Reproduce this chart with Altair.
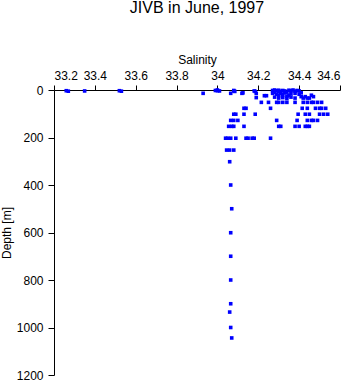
import altair as alt
import pandas as pd

salinity = [
    33.26, 33.27, 33.35, 33.52, 33.53,
    33.93,
    33.99, 34.00, 34.01, 34.00,
    34.065, 34.08, 34.085, 34.08,
    34.12, 34.125,
    34.18, 34.185, 34.19, 34.19,
    34.24, 34.23,
    34.27, 34.28, 34.29, 34.30, 34.31, 34.32, 34.33, 34.35, 34.36, 34.37, 34.38, 34.39, 34.40, 34.30, 34.34, 34.28,
    34.27, 34.29, 34.31, 34.32, 34.33, 34.35, 34.36, 34.38, 34.40, 34.41, 34.30, 34.34,
    34.28, 34.30, 34.32, 34.34, 34.36, 34.38, 34.42, 34.44, 34.45, 34.46, 34.41, 34.43, 34.47,
    34.215, 34.25, 34.29, 34.30, 34.32, 34.34, 34.38, 34.42, 34.44, 34.46, 34.47, 34.49, 34.51,
    34.13, 34.14, 34.26, 34.415, 34.44, 34.48, 34.50, 34.51, 34.53,
    34.08, 34.09, 34.13, 34.185, 34.395, 34.43, 34.45, 34.50, 34.52, 34.54,
    34.065, 34.08, 34.10, 34.29, 34.39, 34.44, 34.46, 34.47, 34.49,
    34.055, 34.07, 34.08, 34.13, 34.30, 34.31, 34.38, 34.40, 34.43, 34.44, 34.45,
    34.04, 34.05, 34.065, 34.09, 34.14, 34.15, 34.17, 34.18, 34.26,
    34.045, 34.06, 34.08,
    34.06, 34.065, 34.07, 34.065, 34.065, 34.065, 34.065, 34.06, 34.065, 34.07,
]
depth = [
    3, 5, 4, 3, 5,
    14,
    2, 3, 4, 0,
    14, 4, 6, 2,
    14, 12,
    4, 6, 14, 32,
    24, 24,
    2, 0, 3, 1, 5, 2, 4, 1, 3, 0, 5, 2, 4, 8, 9, 10,
    14, 18, 15, 20, 12, 22, 16, 14, 18, 12, 24, 26,
    30, 34, 32, 36, 30, 34, 34, 34, 34, 22, 28, 28, 28,
    52, 52, 52, 52, 52, 52, 52, 52, 52, 52, 52, 52, 52,
    77, 77, 77, 77, 77, 77, 77, 77, 77,
    102, 102, 102, 102, 102, 102, 102, 102, 102, 102,
    128, 128, 128, 128, 128, 128, 128, 128, 128,
    153, 153, 153, 153, 153, 153, 153, 153, 153, 153, 153,
    203, 203, 203, 203, 203, 203, 203, 203, 203,
    253, 253, 253,
    302, 400, 500, 601, 700, 800, 900, 935, 1000, 1044,
]

x_ticks = [33.2, 33.4, 33.6, 33.8, 34.0, 34.2, 34.4, 34.6]
y_ticks = [0, 200, 400, 600, 800, 1000, 1200]

df = pd.DataFrame({"Salinity": salinity, "Depth": depth})

FONT = "Liberation Sans"

chart = alt.Chart(df).mark_square(size=13, color="#0000ff", opacity=1).encode(
    x=alt.X(
        "Salinity:Q",
        scale=alt.Scale(domain=[33.2, 34.6], nice=False, zero=False),
        axis=alt.Axis(
            orient="top", values=x_ticks, format="~f", title="Salinity",
            grid=False, domainColor="black", tickColor="black",
            tickSize=5, labelPadding=3, titlePadding=3,
            labelFont=FONT, titleFont=FONT, labelFontSize=12, titleFontSize=12,
            titleFontWeight="normal", labelColor="black", titleColor="black",
        ),
    ),
    y=alt.Y(
        "Depth:Q",
        scale=alt.Scale(domain=[0, 1200], reverse=True, nice=False),
        axis=alt.Axis(
            orient="left", values=y_ticks, format="d", title="Depth [m]",
            grid=False, domainColor="black", tickColor="black",
            tickSize=6, labelPadding=5, titlePadding=3,
            labelFont=FONT, titleFont=FONT, labelFontSize=12, titleFontSize=12,
            titleFontWeight="normal", labelColor="black", titleColor="black",
        ),
    ),
).properties(
    width=286,
    height=285,
    title=alt.TitleParams(
        "JIVB in June, 1997", font=FONT, fontSize=16, fontWeight="normal",
        color="black", anchor="middle", offset=37,
    ),
    autosize=alt.AutoSizeParams(type="none"),
    padding={"left": 54, "top": 90, "right": 13, "bottom": 9},
).configure_view(stroke=None)

chart.save("out.html", embed_options={"renderer": "svg", "actions": False})
